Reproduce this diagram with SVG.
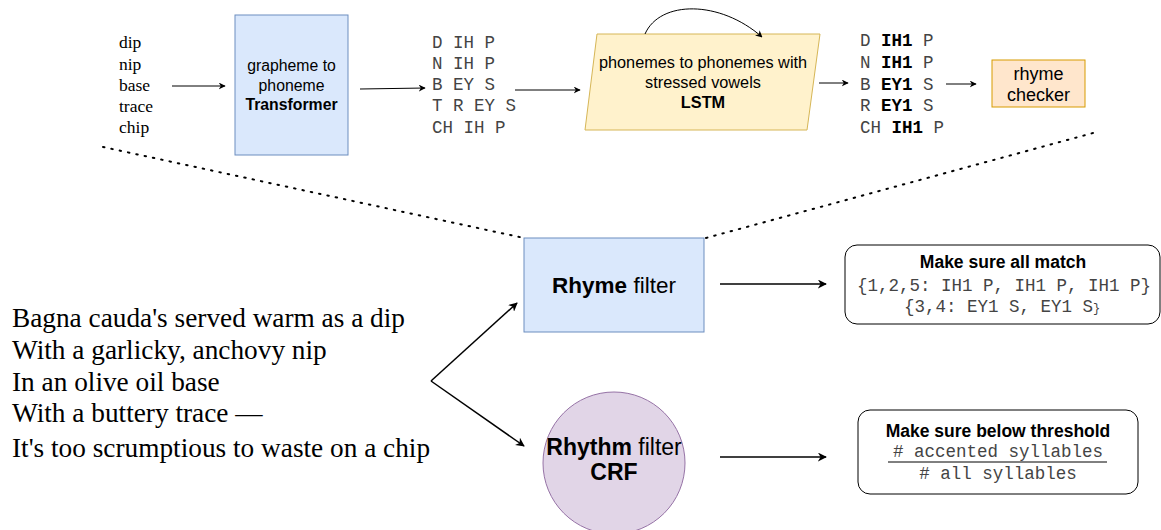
<svg xmlns="http://www.w3.org/2000/svg" width="1161" height="530" viewBox="0 0 1161 530">
<defs>
<marker id="ah" viewBox="0 0 10 10" refX="9" refY="5" markerWidth="7" markerHeight="7" markerUnits="userSpaceOnUse" orient="auto">
<path d="M0,0 L10,5 L0,10 L3,5 Z" fill="#000"/>
</marker>
<marker id="ah2" viewBox="0 0 10 10" refX="9" refY="5" markerWidth="9" markerHeight="9" markerUnits="userSpaceOnUse" orient="auto">
<path d="M0,0 L10,5 L0,10 L3,5 Z" fill="#000"/>
</marker>
<style>
.serif{font-family:"Liberation Serif","Times New Roman",serif;fill:#000}
.sans{font-family:"Liberation Sans",Arial,sans-serif;fill:#000}
.mono{font-family:"Liberation Mono","Courier New",monospace;fill:#444}
.b{font-weight:bold}
.conn{stroke:#000;stroke-width:1;fill:none}
.conn2{stroke:#000;stroke-width:1.5;fill:none}
.dot{stroke:#000;stroke-width:2;fill:none;stroke-dasharray:1.5 7;stroke-linecap:round}
</style>
</defs>
<rect width="1161" height="530" fill="#fff"/>

<g id="words">
<text class="serif" font-size="17.5" x="119" y="48">dip</text>
<text class="serif" font-size="17.5" x="119" y="70">nip</text>
<text class="serif" font-size="17.5" x="119" y="91">base</text>
<text class="serif" font-size="17.5" x="119" y="112">trace</text>
<text class="serif" font-size="17.5" x="119" y="133">chip</text>
</g>

<g id="transformer">
<rect x="235" y="15" width="113" height="140" fill="#dae8fc" stroke="#6c8ebf"/>
<text class="sans" font-size="15.8" text-anchor="middle" x="291.5" y="71">grapheme to</text>
<text class="sans" font-size="15.8" text-anchor="middle" x="291.5" y="91">phoneme</text>
<text class="sans b" font-size="15.8" text-anchor="middle" x="291.5" y="110">Transformer</text>
</g>

<g id="phonemes">
<text class="mono" font-size="17.5" x="432" y="48" xml:space="preserve">D IH P</text>
<text class="mono" font-size="17.5" x="432" y="69" xml:space="preserve">N IH P</text>
<text class="mono" font-size="17.5" x="432" y="90" xml:space="preserve">B EY S</text>
<text class="mono" font-size="17.5" x="432" y="111" xml:space="preserve">T R EY S</text>
<text class="mono" font-size="17.5" x="432" y="133" xml:space="preserve">CH IH P</text>
</g>

<g id="lstm">
<polygon points="597,34 820,34 807,130 585,130" fill="#fff2cc" stroke="#d6b656"/>
<text class="sans" font-size="16.3" text-anchor="middle" x="703" y="68">phonemes to phonemes with</text>
<text class="sans" font-size="16.3" text-anchor="middle" x="703" y="88">stressed vowels</text>
<text class="sans b" font-size="16.3" text-anchor="middle" x="703" y="108">LSTM</text>
</g>

<g id="stressed">
<text class="mono" font-size="17.5" x="860" y="46" xml:space="preserve">D <tspan font-weight="bold" fill="#000">IH1</tspan> P</text>
<text class="mono" font-size="17.5" x="860" y="68" xml:space="preserve">N <tspan font-weight="bold" fill="#000">IH1</tspan> P</text>
<text class="mono" font-size="17.5" x="860" y="90" xml:space="preserve">B <tspan font-weight="bold" fill="#000">EY1</tspan> S</text>
<text class="mono" font-size="17.5" x="860" y="111" xml:space="preserve">R <tspan font-weight="bold" fill="#000">EY1</tspan> S</text>
<text class="mono" font-size="17.5" x="860" y="133" xml:space="preserve">CH <tspan font-weight="bold" fill="#000">IH1</tspan> P</text>
</g>

<g id="rhymechecker">
<rect x="992" y="60" width="93" height="47" fill="#ffe6cc" stroke="#d79b00"/>
<text class="sans" font-size="18" text-anchor="middle" x="1038.5" y="80">rhyme</text>
<text class="sans" font-size="18" text-anchor="middle" x="1038.5" y="101">checker</text>
</g>

<g id="poem">
<text class="serif" font-size="27.3" x="12" y="327">Bagna cauda's served warm as a dip</text>
<text class="serif" font-size="27.3" x="12" y="359">With a garlicky, anchovy nip</text>
<text class="serif" font-size="27.3" x="12" y="391">In an olive oil base</text>
<text class="serif" font-size="27.3" x="12" y="422">With a buttery trace —</text>
<text class="serif" font-size="27.3" x="12" y="457">It's too scrumptious to waste on a chip</text>
</g>

<g id="rhymefilter">
<rect x="524" y="238" width="180" height="94" fill="#dae8fc" stroke="#6c8ebf"/>
<text class="sans" font-size="22.5" text-anchor="middle" x="614" y="293"><tspan font-weight="bold">Rhyme</tspan> filter</text>
</g>

<g id="rhythmfilter">
<ellipse cx="614" cy="463" rx="71" ry="71" fill="#e1d5e7" stroke="#9673a6"/>
<text class="sans" font-size="23" text-anchor="middle" x="614" y="455"><tspan font-weight="bold">Rhythm</tspan> filter</text>
<text class="sans b" font-size="23" text-anchor="middle" x="614" y="480">CRF</text>
</g>

<g id="matchbox">
<rect x="845" y="245" width="315" height="79" rx="12" fill="#fff" stroke="#000"/>
<text class="sans b" font-size="17.5" text-anchor="middle" x="1003" y="268">Make sure all match</text>
<text class="mono" font-size="17.5" text-anchor="middle" x="1004" y="291">{1,2,5: IH1 P, IH1 P, IH1 P}</text>
<text class="mono" font-size="17.5" text-anchor="middle" x="1002" y="312">{3,4: EY1 S, EY1 S<tspan font-size="12">}</tspan></text>
</g>

<g id="thresholdbox">
<rect x="858" y="410" width="280" height="84" rx="12" fill="#fff" stroke="#000"/>
<text class="sans b" font-size="17.5" text-anchor="middle" x="998" y="437">Make sure below threshold</text>
<text class="mono" font-size="17.5" text-anchor="middle" x="998" y="457"># accented syllables</text>
<line x1="888" y1="462" x2="1107" y2="462" stroke="#000" stroke-width="1"/>
<text class="mono" font-size="17.5" text-anchor="middle" x="998" y="479"># all syllables</text>
</g>

<g id="connectors">
<line class="conn" x1="172" y1="86" x2="225" y2="86" marker-end="url(#ah)"/>
<line class="conn" x1="360" y1="89" x2="425" y2="88" marker-end="url(#ah)"/>
<line class="conn" x1="515" y1="90" x2="580" y2="90" marker-end="url(#ah)"/>
<path class="conn" d="M645,34 C660,0 720,0 762,37" marker-end="url(#ah)"/>
<line class="conn" x1="819" y1="83" x2="848" y2="83" marker-end="url(#ah)"/>
<line class="conn" x1="946" y1="84" x2="976" y2="84" marker-end="url(#ah)"/>
<line class="dot" x1="103" y1="147" x2="524" y2="238"/>
<line class="dot" x1="1093" y1="133" x2="706" y2="238"/>
<line class="conn2" x1="431" y1="381" x2="517" y2="303" marker-end="url(#ah2)"/>
<line class="conn2" x1="431" y1="381" x2="524" y2="446" marker-end="url(#ah2)"/>
<line class="conn2" x1="720" y1="284" x2="826" y2="284" marker-end="url(#ah2)"/>
<line class="conn2" x1="720" y1="457" x2="826" y2="457" marker-end="url(#ah2)"/>
</g>
</svg>
